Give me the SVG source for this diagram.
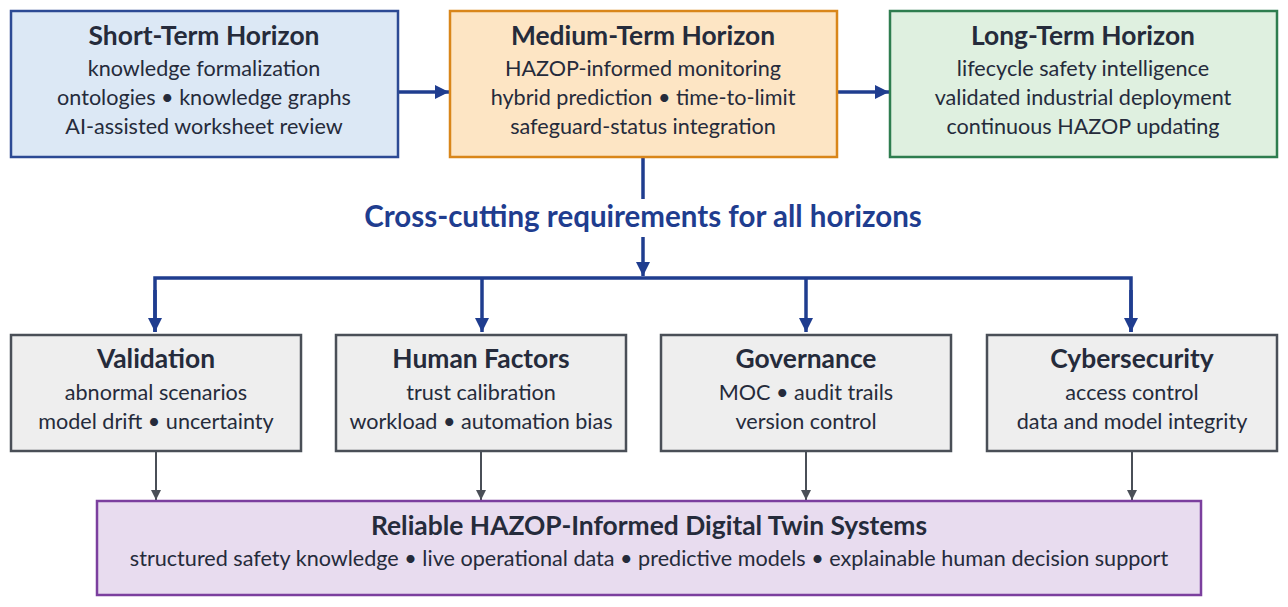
<svg xmlns="http://www.w3.org/2000/svg" width="1288" height="607" viewBox="0 0 1288 607">
<defs>
<style>
text{font-family:Lato,"Open Sans",sans-serif;text-anchor:middle;fill:#252b3b}
.t{font-size:26.4px;font-weight:bold}
.b{font-size:21.6px}
.x{font-size:29.5px;font-weight:bold;fill:#1f3d8f}
.box{stroke-width:2.5}
.blue{stroke:#1f3d8f;stroke-width:3.5;fill:none}
.gray{stroke:#4a4f57;stroke-width:2;fill:none}
</style>
<marker id="ab" viewBox="0 0 10 10" refX="10" refY="5" markerWidth="4" markerHeight="4" markerUnits="strokeWidth" orient="auto"><path d="M0,0L10,5L0,10z" fill="#1f3d8f"/></marker>
<marker id="ag" viewBox="0 0 10 10" refX="10" refY="5" markerWidth="5" markerHeight="5" markerUnits="strokeWidth" orient="auto"><path d="M0,0L10,5L0,10z" fill="#4a4f57"/></marker>
</defs>
<rect width="1288" height="607" fill="#fff"/>
<g id="connectors">
<path class="blue" d="M398,92H449" marker-end="url(#ab)"/>
<path class="blue" d="M837,92H889" marker-end="url(#ab)"/>
<path class="blue" d="M643,157V199"/>
<path class="blue" d="M643,237V276" marker-end="url(#ab)"/>
<path class="blue" d="M155,332V278H1131V332"/>
<path class="blue" d="M155,290V332" marker-end="url(#ab)"/>
<path class="blue" d="M482,278V332" marker-end="url(#ab)"/>
<path class="blue" d="M806,278V332" marker-end="url(#ab)"/>
<path class="blue" d="M1131,290V332" marker-end="url(#ab)"/>
<path class="gray" d="M156,451V500" marker-end="url(#ag)"/>
<path class="gray" d="M481,451V500" marker-end="url(#ag)"/>
<path class="gray" d="M806,451V500" marker-end="url(#ag)"/>
<path class="gray" d="M1132,451V500" marker-end="url(#ag)"/>
</g>
<g id="short">
<rect class="box" x="11" y="11" width="387" height="146" fill="#dce8f5" stroke="#2c4a94"/>
<text class="t" x="204" y="45">Short-Term Horizon</text>
<text class="b" x="204" y="76">knowledge formalization</text>
<text class="b" x="204" y="105">ontologies • knowledge graphs</text>
<text class="b" x="204" y="134">AI-assisted worksheet review</text>
</g>
<g id="medium">
<rect class="box" x="450" y="11" width="387" height="146" fill="#fde5c4" stroke="#d9861a"/>
<text class="t" x="643" y="45">Medium-Term Horizon</text>
<text class="b" x="643" y="76">HAZOP-informed monitoring</text>
<text class="b" x="643" y="105">hybrid prediction • time-to-limit</text>
<text class="b" x="643" y="134">safeguard-status integration</text>
</g>
<g id="long">
<rect class="box" x="890" y="11" width="387" height="146" fill="#dff0e0" stroke="#2e7d4f"/>
<text class="t" x="1083" y="45">Long-Term Horizon</text>
<text class="b" x="1083" y="76">lifecycle safety intelligence</text>
<text class="b" x="1083" y="105">validated industrial deployment</text>
<text class="b" x="1083" y="134">continuous HAZOP updating</text>
</g>
<g id="crosscut">
<text class="x" x="643" y="227">Cross-cutting requirements for all horizons</text>
</g>
<g id="validation">
<rect class="box" x="11" y="335" width="290" height="116" fill="#eeeeee" stroke="#4a4f57"/>
<text class="t" x="156" y="368">Validation</text>
<text class="b" x="156" y="400">abnormal scenarios</text>
<text class="b" x="156" y="429">model drift • uncertainty</text>
</g>
<g id="human">
<rect class="box" x="336" y="335" width="290" height="116" fill="#eeeeee" stroke="#4a4f57"/>
<text class="t" x="481" y="368">Human Factors</text>
<text class="b" x="481" y="400">trust calibration</text>
<text class="b" x="481" y="429">workload • automation bias</text>
</g>
<g id="governance">
<rect class="box" x="661" y="335" width="290" height="116" fill="#eeeeee" stroke="#4a4f57"/>
<text class="t" x="806" y="368">Governance</text>
<text class="b" x="806" y="400">MOC • audit trails</text>
<text class="b" x="806" y="429">version control</text>
</g>
<g id="cyber">
<rect class="box" x="987" y="335" width="290" height="116" fill="#eeeeee" stroke="#4a4f57"/>
<text class="t" x="1132" y="368">Cybersecurity</text>
<text class="b" x="1132" y="400">access control</text>
<text class="b" x="1132" y="429">data and model integrity</text>
</g>
<g id="reliable">
<rect class="box" x="97" y="501" width="1104" height="94" fill="#e8dcef" stroke="#7b3f9e"/>
<text class="t" x="649" y="535">Reliable HAZOP-Informed Digital Twin Systems</text>
<text class="b" x="649" y="566">structured safety knowledge • live operational data • predictive models • explainable human decision support</text>
</g>
</svg>
